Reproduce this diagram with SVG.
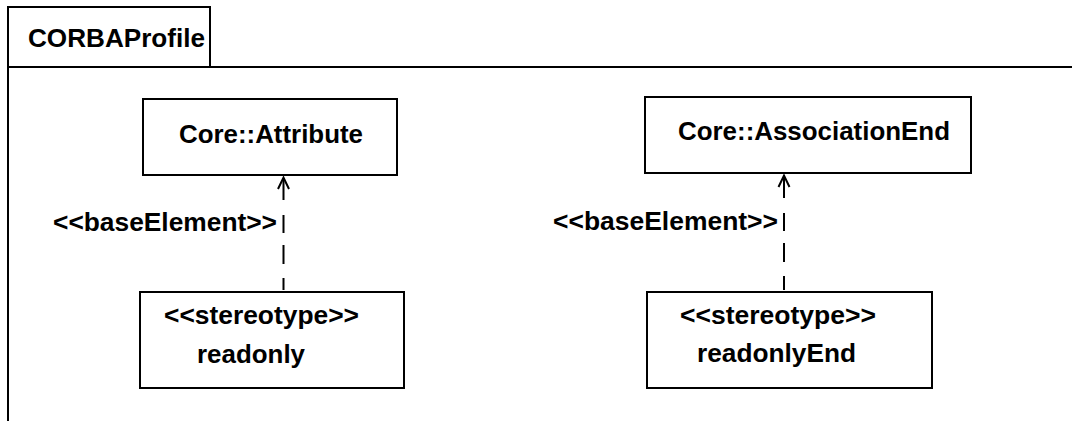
<svg xmlns="http://www.w3.org/2000/svg" width="1072" height="421" viewBox="0 0 1072 421">
<style>
.ln{fill:none;stroke:#000;stroke-width:2}
.box{fill:#fff;stroke:#000;stroke-width:2}
.t{font-family:"Liberation Sans",Arial,sans-serif;font-weight:bold;font-size:25.5px;fill:#000}
</style>
<rect width="1072" height="421" fill="#fff"/>
<g id="frame">
<path class="ln" d="M8,421 V7 H210 V67"/>
<path class="ln" d="M8,67 H1072"/>
<text class="t" x="28" y="47" textLength="177" lengthAdjust="spacingAndGlyphs">CORBAProfile</text>
</g>
<g id="connectors">
<g id="c1">
<path class="ln" d="M283.5,178 V200 M283.5,215 V233 M283.5,245 V264 M283.5,278 V290"/>
<path class="ln" d="M278,189 L283.5,177.5 L289,189"/>
<text class="t" x="53" y="231" textLength="224" lengthAdjust="spacingAndGlyphs">&lt;&lt;baseElement&gt;&gt;</text>
</g>
<g id="c2">
<path class="ln" d="M784,176 V198 M784,213 V231 M784,243 V262 M784,276 V290"/>
<path class="ln" d="M778.5,187 L784,175.5 L789.5,187"/>
<text class="t" x="553" y="230" textLength="225" lengthAdjust="spacingAndGlyphs">&lt;&lt;baseElement&gt;&gt;</text>
</g>
</g>
<g id="attribute">
<rect class="box" x="143" y="99" width="254" height="76"/>
<text class="t" x="179" y="143" textLength="184" lengthAdjust="spacingAndGlyphs">Core::Attribute</text>
</g>
<g id="associationEnd">
<rect class="box" x="645" y="97" width="326" height="76"/>
<text class="t" x="678" y="140" textLength="272" lengthAdjust="spacingAndGlyphs">Core::AssociationEnd</text>
</g>
<g id="readonly">
<rect class="box" x="140" y="292" width="264" height="96"/>
<text class="t" x="164" y="324" textLength="195" lengthAdjust="spacingAndGlyphs">&lt;&lt;stereotype&gt;&gt;</text>
<text class="t" x="197" y="363" textLength="108" lengthAdjust="spacingAndGlyphs">readonly</text>
</g>
<g id="readonlyEnd">
<rect class="box" x="647" y="292" width="285" height="96"/>
<text class="t" x="680" y="324" textLength="196" lengthAdjust="spacingAndGlyphs">&lt;&lt;stereotype&gt;&gt;</text>
<text class="t" x="697" y="362" textLength="159" lengthAdjust="spacingAndGlyphs">readonlyEnd</text>
</g>
</svg>
